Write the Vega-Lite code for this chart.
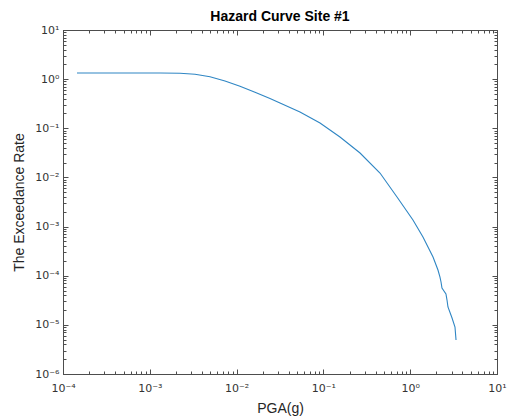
{
  "$schema": "https://vega.github.io/schema/vega-lite/v6.json",
  "width": 434,
  "height": 344,
  "autosize": "none",
  "padding": {"left": 63, "top": 30, "right": 10, "bottom": 45},
  "background": "white",
  "title": {"text": "Hazard Curve Site #1", "font": "Liberation Sans", "fontSize": 14, "fontWeight": "bold", "color": "#000000", "offset": 0},
  "config": {
    "view": {"stroke": "#4d4d4d", "strokeWidth": 1},
    "axis": {
      "labelFont": "DejaVu Sans",
      "labelFontSize": 11,
      "labelColor": "#333333",
      "titleFont": "Liberation Sans",
      "titleFontSize": 14,
      "titleFontWeight": "normal",
      "titleColor": "#262626",
      "domainColor": "#4d4d4d",
      "tickColor": "#4d4d4d",
      "grid": false
    }
  },
  "data": {"values": [
    {"pga": 0.0001449, "rate": 1.334},
    {"pga": 0.000454, "rate": 1.334},
    {"pga": 0.001312, "rate": 1.331},
    {"pga": 0.002228, "rate": 1.315},
    {"pga": 0.003319, "rate": 1.26},
    {"pga": 0.004936, "rate": 1.12},
    {"pga": 0.007349, "rate": 0.918},
    {"pga": 0.01094, "rate": 0.718},
    {"pga": 0.01629, "rate": 0.543},
    {"pga": 0.02425, "rate": 0.403},
    {"pga": 0.03162, "rate": 0.3266},
    {"pga": 0.0537, "rate": 0.2143},
    {"pga": 0.0914, "rate": 0.1279},
    {"pga": 0.1552, "rate": 0.0665},
    {"pga": 0.2642, "rate": 0.03141},
    {"pga": 0.4487, "rate": 0.0123},
    {"pga": 0.7047, "rate": 0.004},
    {"pga": 1.076, "rate": 0.001361},
    {"pga": 1.403, "rate": 0.000614},
    {"pga": 1.832, "rate": 0.0002404},
    {"pga": 2.089, "rate": 0.0001306},
    {"pga": 2.203, "rate": 0.000094},
    {"pga": 2.265, "rate": 0.0000745},
    {"pga": 2.323, "rate": 0.0000562},
    {"pga": 2.582, "rate": 0.0000425},
    {"pga": 2.655, "rate": 0.000032},
    {"pga": 2.723, "rate": 0.0000231},
    {"pga": 3.034, "rate": 0.00001377},
    {"pga": 3.281, "rate": 0.00000904},
    {"pga": 3.373, "rate": 0.00000491}
  ]},
  "resolve": {"axis": {"x": "independent", "y": "independent"}},
  "layer": [
    {
      "mark": {"type": "line", "color": "#2f86c4", "strokeWidth": 1.1},
      "encoding": {
        "x": {
          "field": "pga", "type": "quantitative",
          "scale": {"type": "log", "domain": [0.0001, 10], "nice": false},
          "axis": {
            "orient": "bottom", "title": "PGA(g)", "titlePadding": 6,
            "values": [0.0001,0.0002,0.0003,0.0004,0.0005,0.0006,0.0007,0.0008,0.0009,0.001,0.002,0.003,0.004,0.005,0.006,0.007,0.008,0.009,0.01,0.02,0.03,0.04,0.05,0.06,0.07,0.08,0.09,0.1,0.2,0.3,0.4,0.5,0.6,0.7,0.8,0.9,1,2,3,4,5,6,7,8,9,10],
            "tickSize": {"condition": {"test": "abs(log(datum.value)/LN10 - round(log(datum.value)/LN10)) < 0.001", "value": -5}, "value": -3},
            "labelPadding": 13,
            "labelFlush": false,
            "labelOverlap": false,
            "labelExpr": "abs(log(datum.value)/LN10 - round(log(datum.value)/LN10)) < 0.001 ? '10' + (round(log(datum.value)/LN10) < 0 ? '⁻' : '') + ['⁰','¹','²','³','⁴','⁵','⁶','⁷','⁸','⁹'][abs(round(log(datum.value)/LN10))] : ''"
          }
        },
        "y": {
          "field": "rate", "type": "quantitative",
          "scale": {"type": "log", "domain": [0.000001, 10], "nice": false},
          "axis": {
            "orient": "left", "title": "The Exceedance Rate", "titlePadding": 8,
            "values": [0.000001,0.000002,0.000003,0.000004,0.000005,0.000006,0.000007,0.000008,0.000009,0.00001,0.00002,0.00003,0.00004,0.00005,0.00006,0.00007,0.00008,0.00009,0.0001,0.0002,0.0003,0.0004,0.0005,0.0006,0.0007,0.0008,0.0009,0.001,0.002,0.003,0.004,0.005,0.006,0.007,0.008,0.009,0.01,0.02,0.03,0.04,0.05,0.06,0.07,0.08,0.09,0.1,0.2,0.3,0.4,0.5,0.6,0.7,0.8,0.9,1,2,3,4,5,6,7,8,9,10],
            "tickSize": {"condition": {"test": "abs(log(datum.value)/LN10 - round(log(datum.value)/LN10)) < 0.001", "value": -5}, "value": -3},
            "labelPadding": 9,
            "labelFlush": false,
            "labelOverlap": false,
            "labelExpr": "abs(log(datum.value)/LN10 - round(log(datum.value)/LN10)) < 0.001 ? '10' + (round(log(datum.value)/LN10) < 0 ? '⁻' : '') + ['⁰','¹','²','³','⁴','⁵','⁶','⁷','⁸','⁹'][abs(round(log(datum.value)/LN10))] : ''"
          }
        }
      }
    },
    {
      "mark": {"type": "line", "opacity": 0},
      "encoding": {
        "x": {
          "field": "pga", "type": "quantitative",
          "scale": {"type": "log", "domain": [0.0001, 10], "nice": false},
          "axis": {
            "orient": "top", "title": null, "labels": false,
            "values": [0.0001,0.0002,0.0003,0.0004,0.0005,0.0006,0.0007,0.0008,0.0009,0.001,0.002,0.003,0.004,0.005,0.006,0.007,0.008,0.009,0.01,0.02,0.03,0.04,0.05,0.06,0.07,0.08,0.09,0.1,0.2,0.3,0.4,0.5,0.6,0.7,0.8,0.9,1,2,3,4,5,6,7,8,9,10],
            "tickSize": {"condition": {"test": "abs(log(datum.value)/LN10 - round(log(datum.value)/LN10)) < 0.001", "value": -5}, "value": -3}
          }
        },
        "y": {
          "field": "rate", "type": "quantitative",
          "scale": {"type": "log", "domain": [0.000001, 10], "nice": false},
          "axis": {
            "orient": "right", "title": null, "labels": false,
            "values": [0.000001,0.000002,0.000003,0.000004,0.000005,0.000006,0.000007,0.000008,0.000009,0.00001,0.00002,0.00003,0.00004,0.00005,0.00006,0.00007,0.00008,0.00009,0.0001,0.0002,0.0003,0.0004,0.0005,0.0006,0.0007,0.0008,0.0009,0.001,0.002,0.003,0.004,0.005,0.006,0.007,0.008,0.009,0.01,0.02,0.03,0.04,0.05,0.06,0.07,0.08,0.09,0.1,0.2,0.3,0.4,0.5,0.6,0.7,0.8,0.9,1,2,3,4,5,6,7,8,9,10],
            "tickSize": {"condition": {"test": "abs(log(datum.value)/LN10 - round(log(datum.value)/LN10)) < 0.001", "value": -5}, "value": -3}
          }
        }
      }
    }
  ]
}
